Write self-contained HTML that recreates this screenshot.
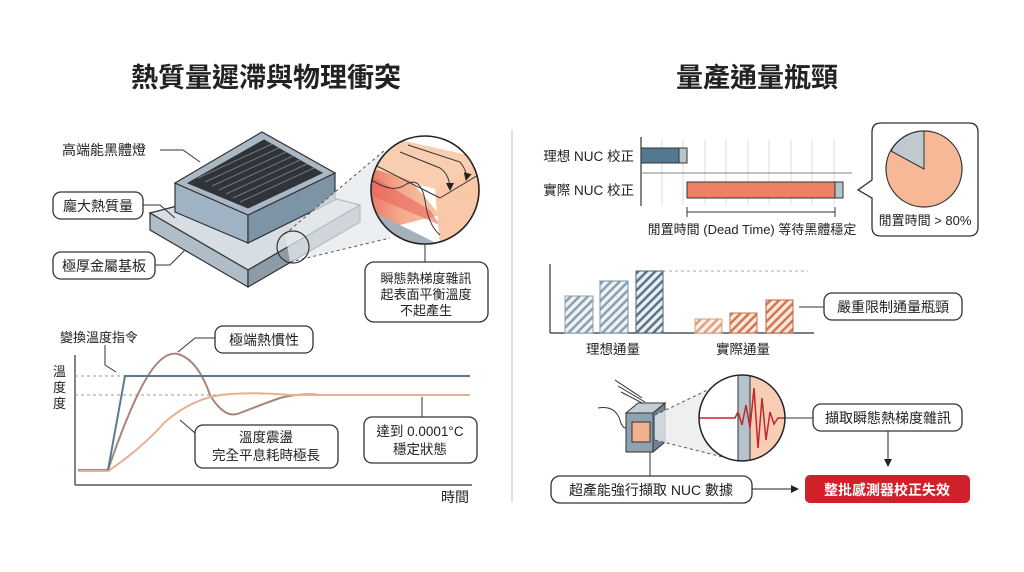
<!DOCTYPE html>
<html><head><meta charset="utf-8"><style>
html,body{margin:0;padding:0;background:#fff;}
svg{display:block;}
text{font-family:"Liberation Sans","Noto Sans CJK TC",sans-serif;fill:#222;}
</style></head><body>
<svg width="1024" height="572" viewBox="0 0 1024 572" xmlns="http://www.w3.org/2000/svg">
<defs>
<pattern id="hb" width="6" height="6" patternUnits="userSpaceOnUse" patternTransform="rotate(45)"><rect width="6" height="6" fill="#eef2f5"/><rect width="2.5" height="6" fill="#8aa0b0"/></pattern>
<pattern id="hb2" width="6" height="6" patternUnits="userSpaceOnUse" patternTransform="rotate(45)"><rect width="6" height="6" fill="#e8eef2"/><rect width="2.5" height="6" fill="#5a7488"/></pattern>
<pattern id="ho" width="6" height="6" patternUnits="userSpaceOnUse" patternTransform="rotate(45)"><rect width="6" height="6" fill="#fbeee6"/><rect width="2.5" height="6" fill="#e0a080"/></pattern>
<pattern id="ho2" width="6" height="6" patternUnits="userSpaceOnUse" patternTransform="rotate(45)"><rect width="6" height="6" fill="#fbe8dd"/><rect width="2.5" height="6" fill="#d27850"/></pattern>
<linearGradient id="hot" x1="0" x2="1"><stop offset="0" stop-color="#e86a5a"/><stop offset="0.5" stop-color="#f4a88c"/><stop offset="1" stop-color="#f8caa8"/></linearGradient>
<marker id="ar" markerWidth="8" markerHeight="8" refX="7" refY="4" orient="auto"><path d="M0,0 L8,4 L0,8z" fill="#222"/></marker>
<clipPath id="bc"><circle cx="425" cy="190" r="54"/></clipPath>
<clipPath id="sc"><circle cx="742" cy="418" r="43"/></clipPath>
</defs>

<text x="266" y="87" font-size="27" font-weight="bold" text-anchor="middle">熱質量遲滯與物理衝突</text>
<text x="757" y="87" font-size="27" font-weight="bold" text-anchor="middle">量產通量瓶頸</text>
<line x1="512" y1="130" x2="512" y2="502" stroke="#ccc" stroke-width="1.2"/>

<!-- block -->
<polygon points="150,213 270,182 360,205 248,270" fill="#d6dde3" stroke="#333" stroke-width="1.2"/>
<polygon points="150,213 248,270 248,287 150,230" fill="#b0bcc6" stroke="#333" stroke-width="1.2"/>
<polygon points="248,270 360,205 360,222 248,287" fill="#8d9ba8" stroke="#333" stroke-width="1.2"/>
<polygon points="175,183 248,215 248,243 175,212" fill="#9fb3c4" stroke="#333" stroke-width="1.2"/>
<polygon points="248,215 335,173 335,200 248,243" fill="#7d93a6" stroke="#333" stroke-width="1.2"/>
<polygon points="175,183 262,132 335,173 248,215" fill="#a9b8c4" stroke="#333" stroke-width="1.2"/>
<polygon points="188,183 264,140 322,173 248,208" fill="#2f343a" stroke="#333"/>
<g stroke="#6f7880" stroke-width="1">
<line x1="198" y1="178" x2="272" y2="144"/><line x1="205" y1="182" x2="279" y2="148"/><line x1="212" y1="186" x2="286" y2="152"/><line x1="219" y1="190" x2="293" y2="156"/><line x1="226" y1="194" x2="300" y2="160"/><line x1="233" y1="198" x2="307" y2="164"/><line x1="240" y1="202" x2="314" y2="168"/>
</g>
<polygon points="285,234 385,150 390,238 290,262" fill="#e6e9ec" opacity="0.75"/>
<line x1="285" y1="234" x2="385" y2="150" stroke="#555" stroke-dasharray="3,3"/>
<line x1="290" y1="262" x2="390" y2="238" stroke="#555" stroke-dasharray="3,3"/>
<circle cx="293" cy="247" r="16" fill="none" stroke="#333" stroke-width="1.2"/>
<circle cx="425" cy="190" r="54" fill="#fff"/>
<g clip-path="url(#bc)">
<polygon points="360,170 400,140 490,160 440,190" fill="#f8cdb0"/>
<polygon points="360,165 410,180 440,215 380,230 360,220" fill="url(#hot)"/>
<polygon points="370,175 430,210 440,225 370,195" fill="#e8655a" opacity="0.6"/>
<polygon points="435,190 490,160 490,215 440,245" fill="#f8c8a8"/>
<polygon points="360,205 440,245 440,258 360,220" fill="#a5b0ba"/>
<polygon points="440,245 490,215 490,230 440,258" fill="#8e9aa5"/>
<path d="M365,175 Q390,195 405,185 Q420,175 425,200 Q428,225 440,235" fill="none" stroke="#333"/>
<path d="M400,152 L440,168 Q450,175 450,190" fill="none" stroke="#333" marker-end="url(#ar)"/>
<path d="M408,145 L460,162 Q468,172 466,180" fill="none" stroke="#333" marker-end="url(#ar)"/>
<line x1="365" y1="160" x2="440" y2="198" stroke="#333"/>
<line x1="440" y1="198" x2="490" y2="168" stroke="#333"/>
</g>
<circle cx="425" cy="190" r="54" fill="none" stroke="#222" stroke-width="1.6"/>
<line x1="425" y1="244" x2="425" y2="262" stroke="#333"/>
<rect x="365" y="262" width="123" height="60" rx="9" fill="#fff" stroke="#333" stroke-width="1.3"/>
<text x="426" y="283" font-size="13" text-anchor="middle">瞬態熱梯度雜訊</text>
<text x="426" y="299" font-size="13" text-anchor="middle">起表面平衡溫度</text>
<text x="426" y="315" font-size="13" text-anchor="middle">不起產生</text>

<text x="62" y="155" font-size="14">高端能黑體燈</text>
<polyline points="160,150 183,150 200,162" fill="none" stroke="#333"/>
<rect x="53" y="192" width="90" height="27" rx="8" fill="#fff" stroke="#333" stroke-width="1.3"/>
<text x="98" y="211" font-size="14" text-anchor="middle">龐大熱質量</text>
<polyline points="143,205 160,205 175,218" fill="none" stroke="#333"/>
<rect x="53" y="252" width="102" height="27" rx="8" fill="#fff" stroke="#333" stroke-width="1.3"/>
<text x="104" y="271" font-size="14" text-anchor="middle">極厚金屬基板</text>
<polyline points="155,265 170,265 185,250" fill="none" stroke="#333"/>

<!-- graph -->
<line x1="75" y1="355" x2="75" y2="485" stroke="#333" stroke-width="1.2"/>
<line x1="75" y1="485" x2="472" y2="485" stroke="#333" stroke-width="1.2"/>
<line x1="75" y1="376" x2="125" y2="376" stroke="#999" stroke-dasharray="3,3"/>
<line x1="75" y1="395" x2="230" y2="395" stroke="#999" stroke-dasharray="3,3"/>
<text x="53" y="376" font-size="13">溫</text><text x="53" y="392" font-size="13">度</text><text x="53" y="408" font-size="13">度</text>
<text x="60" y="342" font-size="13">變換溫度指令</text>
<polyline points="105,345 105,365 116,372" fill="none" stroke="#333"/>
<path d="M78,470 L108,470 Q125,420 140,390 Q160,350 178,354 Q198,360 210,395 Q225,420 240,413 Q260,405 280,398 Q300,393 320,395 L470,395" fill="none" stroke="#a8857a" stroke-width="2"/>
<path d="M78,471 L108,471 Q140,450 165,422 Q195,396 230,394 Q260,392 290,395 L470,395" fill="none" stroke="#e8b092" stroke-width="2"/>
<polyline points="108,470 125,376 470,376" fill="none" stroke="#5a7a90" stroke-width="2"/>
<rect x="215" y="326" width="98" height="27" rx="8" fill="#fff" stroke="#333" stroke-width="1.3"/>
<text x="264" y="345" font-size="14" text-anchor="middle">極端熱慣性</text>
<polyline points="215,338 195,338 178,352" fill="none" stroke="#333"/>
<rect x="195" y="425" width="143" height="43" rx="8" fill="#fff" stroke="#333" stroke-width="1.3"/>
<text x="266" y="442" font-size="13.5" text-anchor="middle">溫度震盪</text>
<text x="266" y="460" font-size="13.5" text-anchor="middle">完全平息耗時極長</text>
<line x1="180" y1="420" x2="195" y2="433" stroke="#333"/>
<rect x="364" y="417" width="113" height="46" rx="8" fill="#fff" stroke="#333" stroke-width="1.3"/>
<text x="420" y="436" font-size="13.5" text-anchor="middle">達到 0.0001°C</text>
<text x="420" y="454" font-size="13.5" text-anchor="middle">穩定狀態</text>
<line x1="422" y1="397" x2="422" y2="417" stroke="#333"/>
<text x="455" y="502" font-size="14" text-anchor="middle">時間</text>

<!-- gantt -->
<g stroke="#ddd"><line x1="662" y1="140" x2="662" y2="205"/><line x1="683" y1="140" x2="683" y2="205"/><line x1="705" y1="140" x2="705" y2="205"/><line x1="726" y1="140" x2="726" y2="205"/><line x1="748" y1="140" x2="748" y2="205"/><line x1="769" y1="140" x2="769" y2="205"/><line x1="791" y1="140" x2="791" y2="205"/><line x1="812" y1="140" x2="812" y2="205"/><line x1="834" y1="140" x2="834" y2="205"/></g>
<line x1="641" y1="137" x2="641" y2="206" stroke="#333" stroke-width="1.2"/>
<line x1="641" y1="173" x2="852" y2="173" stroke="#888"/>
<rect x="641" y="148" width="38" height="15" fill="#557891" stroke="#333"/>
<rect x="679" y="148" width="8" height="15" fill="#b7c5d1" stroke="#333"/>
<rect x="687" y="182" width="148" height="16" fill="#ef8066" stroke="#333"/>
<rect x="835" y="182" width="8" height="16" fill="#b7c5d1" stroke="#333"/>
<text x="634" y="161" font-size="13.5" text-anchor="end">理想 NUC 校正</text>
<text x="634" y="195" font-size="13.5" text-anchor="end">實際 NUC 校正</text>
<line x1="687" y1="212" x2="835" y2="212" stroke="#333"/>
<line x1="687" y1="207" x2="687" y2="217" stroke="#333"/><line x1="835" y1="207" x2="835" y2="217" stroke="#333"/>
<text x="752" y="234" font-size="13" text-anchor="middle">閒置時間 (Dead Time) 等待黑體穩定</text>
<path d="M881,123 H969 Q978,123 978,132 V227 Q978,236 969,236 H881 Q872,236 872,227 V198 L858,190 L872,180 V132 Q872,123 881,123Z" fill="#fff" stroke="#333" stroke-width="1.3"/>
<circle cx="924" cy="169" r="38" fill="#f6b896" stroke="#333" stroke-width="1.2"/>
<path d="M924,169 L924,131 A38,38 0 0 0 891,151 Z" fill="#c0c9d0" stroke="#333"/>
<text x="925" y="225" font-size="13" text-anchor="middle">閒置時間 &gt; 80%</text>

<!-- bars -->
<line x1="550" y1="264" x2="550" y2="333" stroke="#333" stroke-width="1.2"/>
<line x1="550" y1="333" x2="814" y2="333" stroke="#333" stroke-width="1.2"/>
<line x1="663" y1="271" x2="808" y2="271" stroke="#aaa" stroke-dasharray="3,3"/>
<rect x="565" y="296" width="28" height="37" fill="url(#hb)" stroke="#8aa0b0"/>
<rect x="600" y="281" width="28" height="52" fill="url(#hb)" stroke="#7a90a0"/>
<rect x="636" y="271" width="27" height="62" fill="url(#hb2)" stroke="#4a6478"/>
<rect x="695" y="319" width="27" height="14" fill="url(#ho)" stroke="#d8a080"/>
<rect x="730" y="313" width="27" height="20" fill="url(#ho2)" stroke="#c87050"/>
<rect x="766" y="300" width="27" height="33" fill="url(#ho2)" stroke="#c06040"/>
<text x="613" y="354" font-size="13.5" text-anchor="middle">理想通量</text>
<text x="743" y="354" font-size="13.5" text-anchor="middle">實際通量</text>
<line x1="799" y1="307" x2="824" y2="307" stroke="#333"/>
<rect x="824" y="293" width="138" height="27" rx="8" fill="#fff" stroke="#333" stroke-width="1.3"/>
<text x="893" y="312" font-size="14" text-anchor="middle">嚴重限制通量瓶頸</text>

<!-- sensor -->
<g stroke="#333" fill="none"><line x1="615" y1="380" x2="642" y2="398"/><line x1="618" y1="386" x2="645" y2="402"/><line x1="621" y1="392" x2="648" y2="406"/><path d="M598,408 Q615,405 620,420 Q622,428 626,428"/></g>
<polygon points="626,413 638,403 665,403 653,413" fill="#c5ced6" stroke="#333"/>
<polygon points="653,413 665,403 665,442 653,452" fill="#6e8496" stroke="#333"/>
<rect x="626" y="413" width="27" height="39" fill="#8ea2b2" stroke="#333"/>
<rect x="632" y="422" width="18" height="20" fill="#f2b08e" stroke="#333"/>
<polygon points="655,415 735,376 735,461 655,440" fill="#e8ebee" opacity="0.8"/>
<line x1="655" y1="415" x2="735" y2="377" stroke="#555" stroke-dasharray="3,3"/>
<line x1="655" y1="440" x2="735" y2="460" stroke="#555" stroke-dasharray="3,3"/>
<circle cx="742" cy="418" r="43" fill="#f8cdb5"/>
<g clip-path="url(#sc)">
<rect x="699" y="375" width="39" height="90" fill="#fff"/>
<rect x="738" y="375" width="12" height="90" fill="#b6c2cc"/>
<line x1="738" y1="375" x2="738" y2="465" stroke="#333"/><line x1="750" y1="375" x2="750" y2="465" stroke="#333"/>
<polyline points="699,418 735,418 738,412 742,425 746,405 750,428 754,388 758,448 762,398 766,440 770,412 774,424 778,418 790,418" fill="none" stroke="#c0282a" stroke-width="1.5"/>
</g>
<circle cx="742" cy="418" r="43" fill="none" stroke="#222" stroke-width="1.5"/>
<line x1="785" y1="418" x2="813" y2="418" stroke="#333"/>
<rect x="813" y="404" width="149" height="27" rx="8" fill="#fff" stroke="#333" stroke-width="1.3"/>
<text x="888" y="423" font-size="14" text-anchor="middle">擷取瞬態熱梯度雜訊</text>
<line x1="888" y1="431" x2="888" y2="466" stroke="#222" marker-end="url(#ar)"/>
<line x1="650" y1="452" x2="650" y2="476" stroke="#333"/>
<rect x="551" y="476" width="201" height="27" rx="9" fill="#fff" stroke="#333" stroke-width="1.3"/>
<text x="651" y="495" font-size="14" text-anchor="middle">超產能強行擷取 NUC 數據</text>
<line x1="752" y1="489" x2="798" y2="489" stroke="#222" marker-end="url(#ar)"/>
<rect x="805" y="475" width="165" height="28" rx="5" fill="#d0202a"/>
<text x="887" y="495" font-size="14" font-weight="bold" text-anchor="middle" style="fill:#fff">整批感測器校正失效</text>
</svg>
</body></html>
